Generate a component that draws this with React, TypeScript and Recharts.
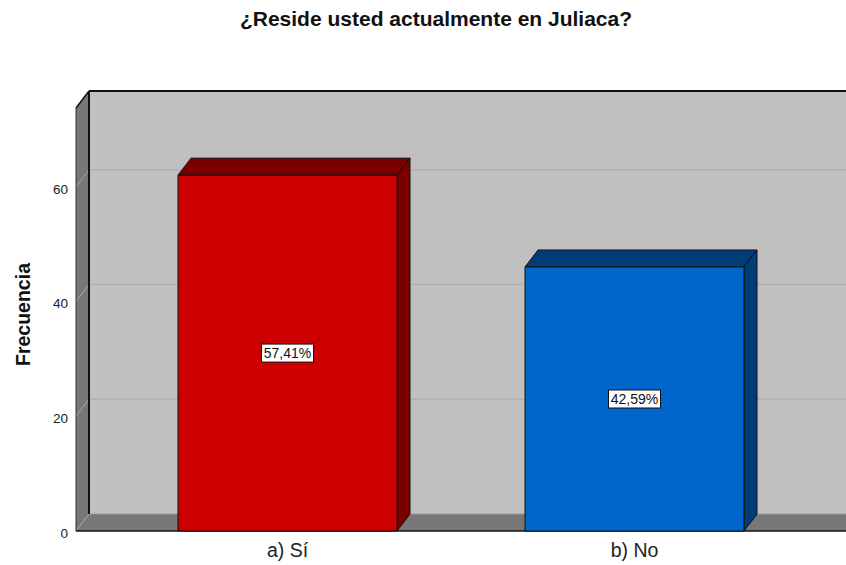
import React from "react";
import { BarChart, Bar, XAxis, YAxis, ReferenceArea, LabelList } from "recharts";

const categorias = ["a) Sí", "b) No"];
const frecuencias = [62, 46];
const porcentajes = ["57,41%", "42,59%"];
const yTicks = [0, 20, 40, 60];
const yMax = 73.7;

const data = categorias.map((c, i) => ({ cat: c, frec: frecuencias[i], pct: porcentajes[i] }));

const DX = 13;
const DY = 17;
const PAD = 38;
const colores = [
  { front: "#cc0000", dark: "#7a0000" },
  { front: "#0066cc", dark: "#003d78" },
];

const Bar3D = (props: any) => {
  const { x, y, width: w, height: h, index } = props;
  const c = colores[index % colores.length];
  return (
    <g stroke="#111" strokeWidth={1} strokeLinejoin="round">
      <polygon
        points={`${x},${y} ${x + DX},${y - DY} ${x + w + DX},${y - DY} ${x + w},${y}`}
        fill={c.dark}
      />
      <polygon
        points={`${x + w},${y} ${x + w + DX},${y - DY} ${x + w + DX},${y + h - DY} ${x + w},${y + h}`}
        fill={c.dark}
      />
      <rect x={x} y={y} width={w} height={h} fill={c.front} />
    </g>
  );
};

// back wall, left wall, floor and grid lines
const Walls = (props: any) => {
  const { x, y, width, height } = props;
  const left = x - PAD;
  const right = x + width + PAD + 40;
  const bottom = y + height;
  const toY = (v: number) => bottom - (v / yMax) * height;
  return (
    <g>
      <rect x={left + DX} y={y - DY} width={right - left} height={height} fill="#c0c0c0" />
      <polygon
        points={`${left},${y} ${left + DX},${y - DY} ${left + DX},${bottom - DY} ${left},${bottom}`}
        fill="#777777"
      />
      <polygon
        points={`${left},${bottom} ${left + DX},${bottom - DY} ${right + DX},${bottom - DY} ${right},${bottom}`}
        fill="#777777"
      />
      {yTicks
        .filter((t) => t > 0)
        .map((t) => (
          <g key={t}>
            <line x1={left + DX} x2={right + DX} y1={toY(t) - DY} y2={toY(t) - DY} stroke="#b0b0b0" strokeWidth={1.5} />
            <line x1={left} x2={left + DX} y1={toY(t)} y2={toY(t) - DY} stroke="#a8a8a8" strokeWidth={1} />
          </g>
        ))}
      <line x1={left} x2={left + DX} y1={bottom} y2={bottom - DY} stroke="#a8a8a8" strokeWidth={1} />
      <line x1={left + DX} x2={right + DX} y1={bottom - DY} y2={bottom - DY} stroke="#9a9a9a" strokeWidth={1} />
      <line x1={left + DX} x2={left + DX} y1={y - DY} y2={bottom - DY} stroke="#111" strokeWidth={2} />
      <line x1={left + DX} x2={right + DX} y1={y - DY} y2={y - DY} stroke="#111" strokeWidth={2} />
      <line x1={left} x2={left + DX} y1={y} y2={y - DY} stroke="#111" strokeWidth={1.5} />
      <line x1={left} x2={left} y1={y} y2={bottom} stroke="#333" strokeWidth={1} />
      <line x1={left} x2={right} y1={bottom} y2={bottom} stroke="#111" strokeWidth={1.5} />
    </g>
  );
};

const PctLabel = (props: any) => {
  const { x, y, width, height, value } = props;
  const cx = x + width / 2;
  const cy = y + height / 2;
  const bw = 52;
  const bh = 18;
  return (
    <g>
      <rect x={cx - bw / 2} y={cy - bh / 2} width={bw} height={bh} fill="#fff" stroke="#111" strokeWidth={1} />
      <text x={cx} y={cy + 5} textAnchor="middle" fontSize={14} fill="#111" fontFamily="Arial, 'Liberation Sans', sans-serif">
        {value}
      </text>
    </g>
  );
};

const YTick = (props: any) => {
  const { x, y, payload } = props;
  return (
    <text x={x} y={y + 7} textAnchor="end" fontSize={13.5} fill="#222" fontFamily="Arial, 'Liberation Sans', sans-serif">
      {payload.value}
    </text>
  );
};

const XTick = (props: any) => {
  const { x, y, payload } = props;
  return (
    <text x={x} y={y + 18} textAnchor="middle" fontSize={19.5} fill="#222" fontFamily="Arial, 'Liberation Sans', sans-serif">
      {payload.value}
    </text>
  );
};

export default function App() {
  return (
    <div style={{ position: "fixed", left: 0, top: 0, width: 846, height: 565, overflow: "hidden", background: "#fff" }}>
      <div
        style={{
          position: "absolute",
          top: 8,
          left: 0,
          width: 872,
          textAlign: "center",
          fontFamily: "Arial, 'Liberation Sans', sans-serif",
          fontWeight: "bold",
          fontSize: 21,
          lineHeight: "21px",
          color: "#111",
        }}
      >
        ¿Reside usted actualmente en Juliaca?
      </div>
      <BarChart
        width={880}
        height={565}
        data={data}
        margin={{ top: 108, right: 34, left: 0, bottom: 0 }}
        barSize={219}
      >
        <XAxis
          dataKey="cat"
          padding={{ left: PAD, right: PAD }}
          axisLine={false}
          tickLine={false}
          height={34}
          tick={<XTick />}
          interval={0}
        />
        <YAxis
          width={76}
          domain={[0, yMax]}
          ticks={yTicks}
          axisLine={false}
          tickLine={false}
          tick={<YTick />}
          label={{
            content: (p: any) => {
              const vb = p.viewBox || { x: 0, y: 108, width: 76, height: 423 };
              const cx = vb.x + 30;
              const cy = vb.y + vb.height / 2 - 5;
              return (
                <text
                  x={cx}
                  y={cy}
                  transform={`rotate(-90 ${cx} ${cy})`}
                  textAnchor="middle"
                  fontSize={19.5}
                  fontWeight="bold"
                  fill="#111"
                  fontFamily="Arial, 'Liberation Sans', sans-serif"
                >
                  Frecuencia
                </text>
              );
            },
          }}
        />
        <ReferenceArea y1={0} y2={yMax} shape={<Walls />} zIndex={-10} ifOverflow="visible" />
        <Bar dataKey="frec" shape={<Bar3D />} isAnimationActive={false}>
          <LabelList dataKey="pct" content={<PctLabel />} />
        </Bar>
      </BarChart>
    </div>
  );
}
